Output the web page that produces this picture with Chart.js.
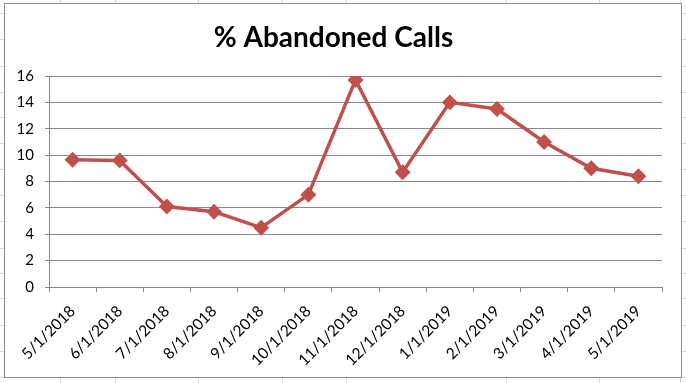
<!DOCTYPE html>
<html>
<head>
<meta charset="utf-8">
<script src="https://cdn.jsdelivr.net/npm/chart.js@4.4.1/dist/chart.umd.min.js"></script>
<style>
  html, body { margin: 0; padding: 0; background: #ffffff; }
  body { width: 686px; height: 383px; position: relative; overflow: hidden; }
  .vl { position: absolute; top: 0; width: 1px; height: 383px; background: #d9d9d9; }
  .hl { position: absolute; left: 0; height: 1px; width: 686px; background: #d9d9d9; }
  #box { position: absolute; left: 4px; top: 3px; width: 676px; height: 373px;
         border: 1px solid #8c8c8c; background: #ffffff; }
  canvas { display: block; }
</style>
</head>
<body>
<div id="grid"></div>
<div id="box"><canvas id="c" width="676" height="373"></canvas></div>
<script>
// ---- data ----
const categories = ["5/1/2018","6/1/2018","7/1/2018","8/1/2018","9/1/2018","10/1/2018","11/1/2018","12/1/2018","1/1/2019","2/1/2019","3/1/2019","4/1/2019","5/1/2019"];
const abandonedPct = [9.65, 9.6, 6.1, 5.7, 4.5, 7.0, 15.7, 8.7, 14.0, 13.5, 11.0, 9.0, 8.4];
const yTicks = [0, 2, 4, 6, 8, 10, 12, 14, 16];
const chartTitle = "% Abandoned Calls";

// spreadsheet background lines (decoration)
const g = document.getElementById('grid');
[60, 115, 198, 282, 346, 506, 599, 680].forEach(x => {
  const d = document.createElement('div'); d.className = 'vl'; d.style.left = x + 'px'; g.appendChild(d);
});
[13, 39, 66, 92, 117, 143, 169, 195, 221, 248, 273, 298, 325, 351, 377].forEach(y => {
  const d = document.createElement('div'); d.className = 'hl'; d.style.top = y + 'px'; g.appendChild(d);
});

const FONT = "Lato, 'Open Sans', sans-serif";
const red = '#C0504D';
const gridC = '#878787';

new Chart(document.getElementById('c'), {
  type: 'line',
  data: {
    labels: categories,
    datasets: [{
      data: abandonedPct,
      borderColor: red,
      backgroundColor: red,
      borderWidth: 3.5,
      pointStyle: 'rectRot',
      pointRadius: 5.5,
      pointHoverRadius: 5.5,
      pointBackgroundColor: red,
      pointBorderColor: red,
      tension: 0
    }]
  },
  options: {
    responsive: false,
    animation: false,
    events: [],
    layout: { padding: { left: 0, right: 19, top: 0, bottom: 0 } },
    plugins: {
      legend: { display: false },
      tooltip: { enabled: false },
      title: {
        display: true,
        text: chartTitle,
        color: '#000000',
        font: { family: FONT, size: 28, weight: 'bold', lineHeight: 1.2 },
        padding: { top: 17, bottom: 21.4 }
      }
    },
    scales: {
      x: {
        offset: true,
        grid: { display: true, drawOnChartArea: false, offset: true, color: gridC, tickLength: 5, tickColor: gridC },
        border: { display: true, color: gridC },
        ticks: {
          color: '#000000',
          font: { family: FONT, size: 15.5 },
          minRotation: 45, maxRotation: 45,
          autoSkip: false,
          padding: 10
        },
        afterFit(s) { s.height = 90; }
      },
      y: {
        min: 0, max: 16,
        afterBuildTicks(s) { s.ticks = yTicks.map(v => ({ value: v })); },
        grid: { color: gridC, tickLength: 4, tickColor: gridC },
        border: { display: true, color: gridC },
        ticks: {
          color: '#000000',
          font: { family: FONT, size: 15 },
          padding: 11
        },
        afterFit(s) { s.width = 44; }
      }
    }
  }
});
</script>
</body>
</html>
